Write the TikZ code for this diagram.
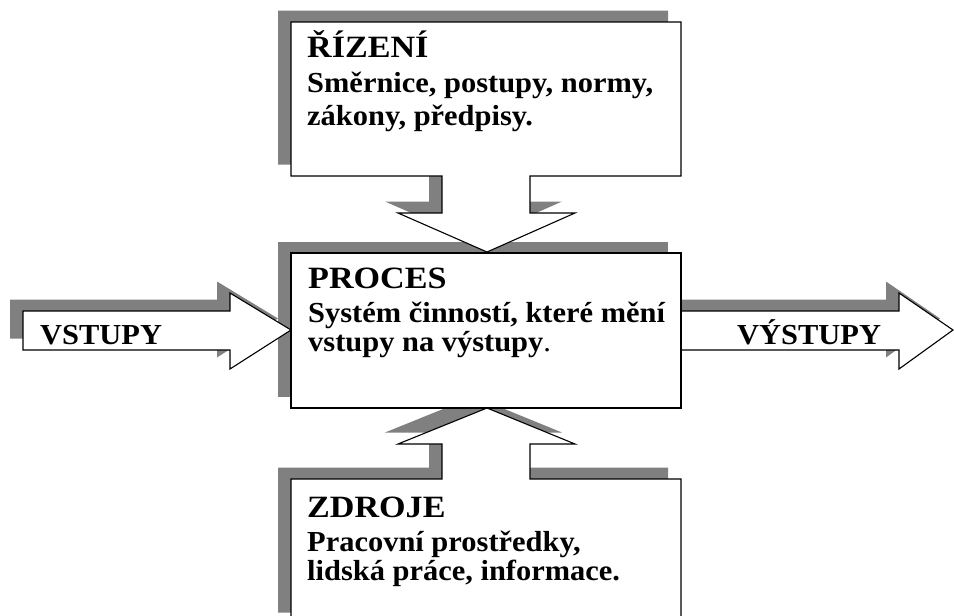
\documentclass[tikz,border=0pt]{standalone}
\usepackage{fontspec}
\setmainfont{Liberation Serif}
\newfontfamily\headfont{Liberation Serif}[FakeStretch=1.1]
\newfontfamily\bodyfont{Liberation Serif}[FakeStretch=1.05]

\definecolor{shadowgray}{RGB}{128,128,128}

\tikzset{
  shade/.style={fill=shadowgray, draw=none},
  face/.style={fill=white, draw=black, line width=1.1pt, line join=miter},
  title/.style={anchor=base west, inner sep=0pt,
    font=\headfont\bfseries\fontsize{31}{32}\selectfont},
  body/.style={anchor=base west, inner sep=0pt,
    font=\bodyfont\bfseries\fontsize{29}{30}\selectfont},
}

% a white outlined shape with a gray drop shadow up and to the left
\newcommand\shadowedshape[1]{%
  \fill[shade, shift={(-13,-11.5)}] #1;
  \draw[face] #1;
}

\begin{document}
\begin{tikzpicture}[x=1pt, y=-1pt]
\useasboundingbox (0,0) rectangle (954,616);
\clip (0,0) rectangle (954,616);

% resources: box with an arrow pointing up into the process
\shadowedshape{(291,624) -- (291,479) -- (442,479) -- (442,444) -- (398,444)
  -- (487,408) -- (575,444) -- (530,444) -- (530,479) -- (681,479)
  -- (681,624) -- cycle}

% outputs arrow
\shadowedshape{(681,311) -- (899,311) -- (899,293) -- (953,330)
  -- (899,369) -- (899,350) -- (681,350) -- cycle}

% process box
\shadowedshape{(291,253) rectangle (681,408)}

% inputs arrow
\shadowedshape{(23,311) -- (230,311) -- (230,293) -- (291,330)
  -- (230,369) -- (230,350) -- (23,350) -- cycle}

% control: box with an arrow pointing down into the process
\shadowedshape{(291,22) -- (681,22) -- (681,176) -- (530,176) -- (530,213)
  -- (575,213) -- (487,252) -- (398,213) -- (442,213) -- (442,176)
  -- (291,176) -- cycle}

% texts
\node[title] (rizeni)  at (307,57)  {ŘÍZENÍ};
\node[body]  (rizeniA) at (307,92)  {Směrnice, postupy, normy,};
\node[body]  (rizeniB) at (307,125) {zákony, předpisy.};

\node[title] (proces)  at (308,288) {PROCES};
\node[body]  (procesA) at (308,322) {Systém činností, které mění};
\node[body]  (procesB) at (308,351) {vstupy na výstupy{\mdseries .}};

\node[title] (zdroje)  at (307,517) {ZDROJE};
\node[body]  (zdrojeA) at (307,551) {Pracovní prostředky,};
\node[body]  (zdrojeB) at (307,580) {lidská práce, informace.};

\node[body] (vstupy)  at (40,344)  {VSTUPY};
\node[body] (vystupy) at (737,344) {VÝSTUPY};
\end{tikzpicture}
\end{document}
